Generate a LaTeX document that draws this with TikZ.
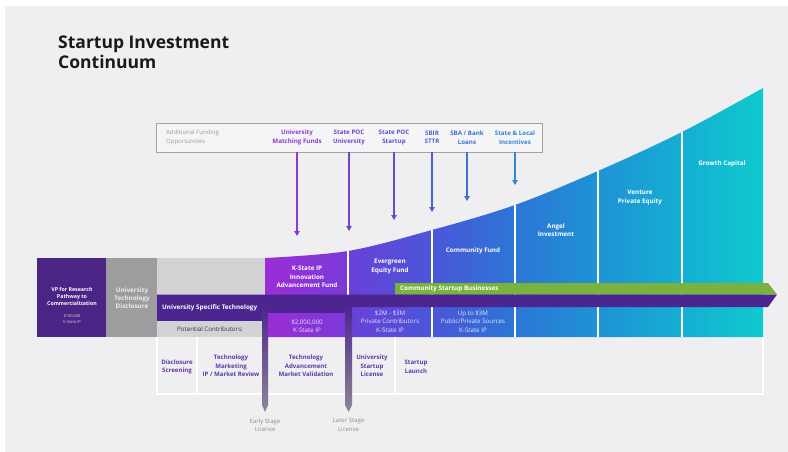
\documentclass[tikz,border=0pt]{standalone}
\usepackage{fontspec}
\setmainfont{Open Sans}
\usetikzlibrary{arrows.meta}
\definecolor{bg}{HTML}{EFEEF1}
\definecolor{titlec}{HTML}{1A1A1A}
\definecolor{boxgray}{HTML}{A3A3A6}
\definecolor{addgray}{HTML}{9C9C9F}
\definecolor{cA}{HTML}{8B3BD0}
\definecolor{cB}{HTML}{7442CC}
\definecolor{cC}{HTML}{5C52CE}
\definecolor{cD}{HTML}{4C60D0}
\definecolor{cE}{HTML}{3C72D2}
\definecolor{cF}{HTML}{2F86D3}
\definecolor{k0}{HTML}{9B2DD6}
\definecolor{k1}{HTML}{7A3AD8}
\definecolor{k1b}{HTML}{6A40D9}
\definecolor{k2}{HTML}{4A56D8}
\definecolor{k3}{HTML}{2C76D6}
\definecolor{k4}{HTML}{1E93D5}
\definecolor{k5}{HTML}{15AED3}
\definecolor{k6}{HTML}{0FCACD}
\definecolor{vpc}{HTML}{4A2585}
\definecolor{discgray}{HTML}{9D9D9F}
\definecolor{lightgray2}{HTML}{D3D3D5}
\definecolor{darkbar}{HTML}{4D2590}
\definecolor{bargray}{HTML}{8C8794}
\definecolor{greenbar}{HTML}{7BB23F}
\definecolor{cellpurple}{HTML}{5F3AA8}
\definecolor{licgray}{HTML}{8E8E90}
\begin{document}
\begin{tikzpicture}[x=1pt,y=-1pt,
  lbl/.style={font=\fontsize{6.3}{8.5}\selectfont\bfseries, text=white, align=center, inner sep=0pt},
  sublbl/.style={font=\fontsize{6.2}{8.5}\selectfont, text=white, text opacity=0.85, align=center, inner sep=0pt},
  funlbl/.style={font=\fontsize{6.2}{8.5}\selectfont\bfseries, align=center, inner sep=0pt},
  celllbl/.style={font=\fontsize{6.1}{8.5}\selectfont\bfseries, text=cellpurple, align=center, inner sep=0pt},
  liclbl/.style={font=\fontsize{6}{8.5}\selectfont, text=licgray, align=center, inner sep=0pt},
  farrow/.style={line width=1.4pt, -{Triangle[width=5.5pt,length=5pt]}},
  cellline/.style={draw=white, line width=1.3pt},
]
\useasboundingbox (0,0) rectangle (788,452);
\fill[white] (0,0) rectangle (788,452);
\fill[bg] (5,6) rectangle (788,452);

% title
\node[anchor=west, align=left, font=\fontsize{17.5}{20}\selectfont\bfseries, text=titlec, inner sep=0pt] (title) at (58,52) {Startup Investment\\Continuum};

% funding box
\node[draw=boxgray, fill=white!40!bg, line width=0.9pt, minimum width=386pt, minimum height=29pt, inner sep=0pt] (fbox) at (349,137.5) {};
\node[anchor=west, align=left, font=\fontsize{6}{8.5}\selectfont, text=addgray, inner sep=0pt] (addl) at (166,137.5) {Additional Funding\\Opportunities};
\node[funlbl, text=cA] (umf) at (297,137.5) {University\\Matching Funds};
\node[funlbl, text=cB] (spu) at (349,137.5) {State POC\\University};
\node[funlbl, text=cC] (sps) at (394,137.5) {State POC\\Startup};
\node[funlbl, text=cD] (sbir) at (432,137.5) {SBIR\\STTR};
\node[funlbl, text=cE] (sba) at (467,137.5) {SBA / Bank\\Loans};
\node[funlbl, text=cF] (sli) at (515,137.5) {State \& Local\\Incentives};

\coordinate (umfE) at (297,236);
\coordinate (spuE) at (349,231);
\coordinate (spsE) at (394,220);
\coordinate (sbirE) at (432,212);
\coordinate (sbaE) at (467,201);
\coordinate (sliE) at (515,185);
\draw[farrow, cA] (umf |- fbox.south) -- (umfE);
\draw[farrow, cB] (spu |- fbox.south) -- (spuE);
\draw[farrow, cC] (sps |- fbox.south) -- (spsE);
\draw[farrow, cD] (sbir |- fbox.south) -- (sbirE);
\draw[farrow, cE] (sba |- fbox.south) -- (sbaE);
\draw[farrow, cF] (sli |- fbox.south) -- (sliE);

% curved investment region
\begin{scope}
\clip (265,337) -- plot[smooth,tension=0.55] coordinates {(265,258) (348,251) (432,230) (515,205) (598,171) (682,132) (763,88)} -- (763,337) -- cycle;
\shade[left color=k0, right color=k1] (265,80) rectangle (348.5,337);
\shade[left color=k1b, right color=k2] (348,80) rectangle (432.5,337);
\shade[left color=k2, right color=k3] (432,80) rectangle (515.5,337);
\shade[left color=k3, right color=k4] (515,80) rectangle (598.5,337);
\shade[left color=k4, right color=k5] (598,80) rectangle (682.5,337);
\shade[left color=k5, right color=k6] (682,80) rectangle (763,337);
\foreach \xx in {348,432,515,598,682} \draw[white, line width=1.3pt] (\xx,80) -- (\xx,337);
\end{scope}

% left blocks
\fill[vpc] (37,258) rectangle (106,337);
\fill[discgray] (106,258) rectangle (157,337);
\fill[lightgray2] (157,258) rectangle (265,295);
\fill[lightgray2] (157,321) rectangle (262,337);

% bottom cells
\draw[cellline] (157,337) -- (157,394) -- (763,394) -- (763,337);
\draw[cellline] (197,337) -- (197,394);
\draw[cellline] (395,337) -- (395,394);

% bands
\fill[greenbar] (395,283) -- (768,283) -- (777,294.5) -- (395,294.5) -- cycle;
\fill[darkbar] (157,294.5) -- (777,294.5) -- (768,307) -- (157,307) -- cycle;
\fill[darkbar] (157,306) rectangle (268,321);
\fill[darkbar] (268,306) rectangle (345,313);

% license bars
\shade[top color=darkbar, bottom color=bargray] (262,306) -- (268,306) -- (268,405) -- (265,412) -- (262,405) -- cycle;
\shade[top color=darkbar, bottom color=bargray] (345,306) -- (352,306) -- (352,405) -- (348.5,412) -- (345,405) -- cycle;

% column labels
\node[lbl] (ksf) at (307,277) {K-State IP\\Innovation\\Advancement Fund};
\node[lbl] (egf) at (390,266.5) {Evergreen\\Equity Fund};
\node[lbl] (cf) at (473,251) {Community Fund};
\node[lbl] (ang) at (556,230) {Angel\\Investment};
\node[lbl] (ven) at (640,197.5) {Venture\\Private Equity};
\node[lbl] (gc) at (722,164) {Growth Capital};

\node[sublbl] (ks2) at (307,326) {\$2,000,000\\K-State IP};
\node[sublbl] (eg2) at (390,321.5) {\$2M - \$3M\\Private Contributors\\K-State IP};
\node[sublbl] (cf2) at (473,321.5) {Up to \$3M\\Public/Private Sources\\K-State IP};

\node[anchor=west, lbl] (csb) at (400,288.8) {Community Startup Businesses};
\node[anchor=west, lbl] (ust) at (162,308) {University Specific Technology};
\node[font=\fontsize{6.2}{8.5}\selectfont, text=black!80, inner sep=0pt] (pc) at (210,329.5) {Potential Contributors:};

% VP block
\node[font=\fontsize{5.3}{7}\selectfont\bfseries, text=white, align=center, inner sep=0pt] (vp) at (72,296) {VP for Research\\Pathway to\\Commercialization};
\node[font=\fontsize{4}{6}\selectfont, text=white, text opacity=0.8, align=center, inner sep=0pt] (vpm) at (72,319) {\$100,000\\K-State IP};
\node[font=\fontsize{6.3}{8.2}\selectfont\bfseries, text=white!92!black, align=center, inner sep=0pt] (utd) at (132,298) {University\\Technology\\Disclosure};

% bottom cell labels
\node[celllbl] (ds) at (177,367) {Disclosure\\Screening};
\node[celllbl] (tm) at (231,366) {Technology\\Marketing\\IP / Market Review};
\node[celllbl] (ta) at (306,366) {Technology\\Advancement\\Market Validation};
\node[celllbl] (usl) at (372,366) {University\\Startup\\License};
\node[celllbl] (sl) at (416,367) {Startup\\Launch};

% license labels
\node[liclbl] (esl) at (265,425) {Early Stage\\License};
\node[liclbl] (lsl) at (348.5,425) {Later Stage\\License};
\end{tikzpicture}
\end{document}
